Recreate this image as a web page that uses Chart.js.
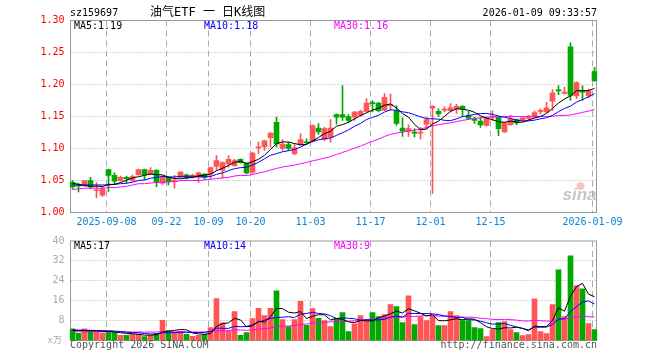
<!DOCTYPE html>
<html>
<head>
<meta charset="utf-8">
<script src="https://cdn.jsdelivr.net/npm/chart.js@4/dist/chart.umd.min.js"></script>
<style>
  body { margin: 0; background: #fff; }
  #wrap { position: relative; width: 660px; height: 360px; overflow: hidden; }
  canvas { position: absolute; left: 0; }
  #price { top: 0; }
  #volume { top: 230px; }
</style>
</head>
<body>
<div id="wrap">
  <canvas id="price" width="660" height="230"></canvas>
  <canvas id="volume" width="660" height="130"></canvas>
</div>
<script>
// trading days shown (sz159697, daily)
const dates = [
  "2025-08-29", "2025-09-01", "2025-09-02", "2025-09-03", "2025-09-04", "2025-09-05",
  "2025-09-08", "2025-09-09", "2025-09-10", "2025-09-11", "2025-09-12",
  "2025-09-15", "2025-09-16", "2025-09-17", "2025-09-18", "2025-09-19",
  "2025-09-22", "2025-09-23", "2025-09-24", "2025-09-25", "2025-09-26",
  "2025-09-29", "2025-09-30", "2025-10-09", "2025-10-10",
  "2025-10-13", "2025-10-14", "2025-10-15", "2025-10-16", "2025-10-17",
  "2025-10-20", "2025-10-21", "2025-10-22", "2025-10-23", "2025-10-24",
  "2025-10-27", "2025-10-28", "2025-10-29", "2025-10-30", "2025-10-31",
  "2025-11-03", "2025-11-04", "2025-11-05", "2025-11-06", "2025-11-07",
  "2025-11-10", "2025-11-11", "2025-11-12", "2025-11-13", "2025-11-14",
  "2025-11-17", "2025-11-18", "2025-11-19", "2025-11-20", "2025-11-21",
  "2025-11-24", "2025-11-25", "2025-11-26", "2025-11-27", "2025-11-28",
  "2025-12-01", "2025-12-02", "2025-12-03", "2025-12-04", "2025-12-05",
  "2025-12-08", "2025-12-09", "2025-12-10", "2025-12-11", "2025-12-12",
  "2025-12-15", "2025-12-16", "2025-12-17", "2025-12-18", "2025-12-19",
  "2025-12-22", "2025-12-23", "2025-12-24", "2025-12-25", "2025-12-26",
  "2025-12-29", "2025-12-30", "2025-12-31",
  "2026-01-05", "2026-01-06", "2026-01-07", "2026-01-08", "2026-01-09",
];

const open = [
  1.047, 1.043, 1.042, 1.050, 1.034, 1.027, 1.067, 1.058, 1.050, 1.055,
  1.050, 1.059, 1.067, 1.060, 1.066, 1.046, 1.055, 1.049, 1.055, 1.059,
  1.055, 1.055, 1.060, 1.060, 1.072, 1.066, 1.076, 1.073, 1.083, 1.077,
  1.063, 1.101, 1.103, 1.117, 1.141, 1.100, 1.106, 1.092, 1.106, 1.110,
  1.111, 1.132, 1.114, 1.118, 1.153, 1.153, 1.150, 1.149, 1.152, 1.158,
  1.171, 1.171, 1.160, 1.167, 1.159, 1.132, 1.127, 1.125, 1.124, 1.138,
  1.163, 1.158, 1.160, 1.159, 1.162, 1.166, 1.152, 1.146, 1.143, 1.136,
  1.148, 1.149, 1.126, 1.137, 1.145, 1.144, 1.147, 1.149, 1.158, 1.157,
  1.174, 1.191, 1.186, 1.259, 1.182, 1.189, 1.182, 1.220,
];
const high = [
  1.050, 1.046, 1.050, 1.055, 1.047, 1.040, 1.068, 1.062, 1.057, 1.057,
  1.059, 1.068, 1.068, 1.070, 1.067, 1.057, 1.056, 1.058, 1.064, 1.060,
  1.060, 1.063, 1.061, 1.071, 1.089, 1.079, 1.089, 1.083, 1.084, 1.078,
  1.094, 1.110, 1.113, 1.125, 1.149, 1.114, 1.110, 1.108, 1.123, 1.115,
  1.137, 1.139, 1.133, 1.145, 1.154, 1.198, 1.153, 1.158, 1.160, 1.178,
  1.175, 1.172, 1.186, 1.185, 1.167, 1.148, 1.137, 1.131, 1.133, 1.149,
  1.167, 1.162, 1.165, 1.170, 1.169, 1.167, 1.158, 1.149, 1.149, 1.149,
  1.159, 1.150, 1.141, 1.152, 1.146, 1.149, 1.152, 1.159, 1.162, 1.172,
  1.192, 1.198, 1.196, 1.265, 1.204, 1.198, 1.193, 1.227,
];
const low = [
  1.037, 1.032, 1.041, 1.037, 1.023, 1.025, 1.033, 1.045, 1.049, 1.046,
  1.049, 1.058, 1.051, 1.059, 1.040, 1.044, 1.043, 1.038, 1.054, 1.052,
  1.054, 1.047, 1.052, 1.053, 1.066, 1.054, 1.071, 1.072, 1.077, 1.060,
  1.061, 1.092, 1.097, 1.102, 1.102, 1.097, 1.097, 1.090, 1.105, 1.107,
  1.110, 1.122, 1.112, 1.110, 1.138, 1.144, 1.141, 1.144, 1.150, 1.157,
  1.157, 1.157, 1.159, 1.160, 1.136, 1.119, 1.119, 1.118, 1.115, 1.131,
  1.030, 1.150, 1.157, 1.157, 1.155, 1.150, 1.145, 1.139, 1.133, 1.135,
  1.144, 1.120, 1.125, 1.137, 1.137, 1.143, 1.144, 1.148, 1.154, 1.156,
  1.159, 1.184, 1.185, 1.175, 1.178, 1.175, 1.179, 1.205,
];
const close = [
  1.040, 1.041, 1.050, 1.040, 1.035, 1.037, 1.058, 1.049, 1.055, 1.053,
  1.056, 1.067, 1.059, 1.066, 1.047, 1.055, 1.048, 1.050, 1.063, 1.054,
  1.058, 1.062, 1.055, 1.070, 1.081, 1.078, 1.083, 1.081, 1.078, 1.062,
  1.093, 1.102, 1.112, 1.124, 1.107, 1.107, 1.100, 1.101, 1.114, 1.109,
  1.136, 1.126, 1.131, 1.132, 1.149, 1.149, 1.144, 1.157, 1.158, 1.171,
  1.170, 1.159, 1.180, 1.168, 1.139, 1.127, 1.131, 1.124, 1.125, 1.145,
  1.166, 1.154, 1.161, 1.1635, 1.166, 1.162, 1.147, 1.144, 1.137, 1.148,
  1.149, 1.131, 1.140, 1.146, 1.140, 1.148, 1.148, 1.156, 1.1585, 1.1635,
  1.187, 1.190, 1.188, 1.183, 1.203, 1.188, 1.190, 1.206,
];
// volume, 万手
const volume = [
  4.7, 2.9, 4.7, 3.7, 3.7, 2.9, 3.7, 3.3, 2.1, 2.1,
  2.5, 2.5, 1.6, 2.1, 2.9, 8.1, 4.0, 3.3, 3.7, 2.5,
  1.7, 2.1, 2.5, 5.2, 16.9, 7.1, 3.7, 11.6, 2.1, 3.2,
  8.8, 12.9, 10.0, 12.9, 20.0, 8.4, 5.6, 8.4, 15.7, 6.1,
  12.8, 8.9, 8.0, 5.6, 8.9, 11.2, 3.6, 6.7, 10.0, 8.0,
  11.2, 9.6, 10.4, 14.4, 13.6, 7.2, 18.0, 6.4, 9.6, 8.0,
  10.0, 6.0, 6.0, 11.6, 10.0, 8.0, 8.0, 5.2, 4.8, 1.6,
  4.4, 7.2, 7.6, 4.4, 3.2, 2.0, 2.4, 16.8, 3.6, 2.8,
  14.4, 28.4, 9.6, 34.0, 22.0, 20.8, 6.8, 4.4,
];

// averages at the left edge need days before the window
const ma5Head = [1.046, 1.044, 1.042, 1.041];
const ma10Head = [1.043, 1.043, 1.043, 1.043, 1.043, 1.043, 1.043, 1.044, 1.045];
const ma30Head = [
  1.036, 1.037, 1.038, 1.038, 1.038, 1.038, 1.039, 1.039, 1.040, 1.041,
  1.043, 1.045, 1.045, 1.046, 1.047, 1.047, 1.048, 1.048, 1.050, 1.050,
  1.050, 1.050, 1.051, 1.052, 1.053, 1.054, 1.055, 1.057, 1.058,
];
const volMa5Head = [4.1, 4.0, 4.0, 3.9];
const volMa10Head = [4.2, 4.2, 4.1, 4.1, 4.0, 4.0, 3.9, 3.8, 3.6];
const volMa30Head = [
  3.5, 3.5, 3.5, 3.5, 3.5, 3.5, 3.5, 3.5, 3.5, 3.4,
  3.4, 3.4, 3.4, 3.4, 3.4, 3.5, 3.5, 3.5, 3.5, 3.5,
  3.4, 3.4, 3.4, 3.5, 3.9, 4.0, 4.0, 4.3, 4.2,
];

const priceTicks = [1.0, 1.05, 1.1, 1.15, 1.2, 1.25, 1.3];
const volumeTicks = [0, 8, 16, 24, 32, 40];
const tickDates = ["2025-09-08", "2025-09-22", "2025-10-09", "2025-10-20", "2025-11-03",
  "2025-11-17", "2025-12-01", "2025-12-15", "2026-01-09"];
const tickText = ["2025-09-08", "09-22", "10-09", "10-20", "11-03",
  "11-17", "12-01", "12-15", "2026-01-09"];

const RED = "#ff5555";
const GREEN = "#00a800";
const mono = "'DejaVu Sans Mono', monospace";

function movingAverage(values, n, head) {
  return values.map((v, i) => {
    if (i < n - 1) return head[i];
    let s = 0;
    for (let k = i - n + 1; k <= i; k++) s += values[k];
    return s / n;
  });
}

const colors = dates.map((d, i) => (close[i] >= open[i] ? RED : GREEN));

function text(ctx, str, x, y, color, font, align) {
  ctx.fillStyle = color;
  ctx.font = font;
  ctx.textAlign = align || "left";
  ctx.textBaseline = "middle";
  ctx.fillText(str, x, y);
}

function drawGrid(chart, hValues) {
  const { ctx, chartArea: ca } = chart;
  const xs = chart.scales.x, ys = chart.scales.y;
  ctx.save();
  ctx.lineWidth = 1;
  ctx.strokeStyle = "#aaa";
  ctx.setLineDash([1, 2]);
  hValues.forEach((v) => {
    const py = Math.round(ys.getPixelForValue(v) - 0.5) + 0.5;
    ctx.beginPath();
    ctx.moveTo(ca.left + 1, py);
    ctx.lineTo(ca.right - 1, py);
    ctx.stroke();
  });
  ctx.setLineDash([6, 4]);
  tickDates.forEach((d) => {
    const px = xs.getPixelForValue(dates.indexOf(d)) - 2;
    ctx.beginPath();
    ctx.moveTo(px, ca.top);
    ctx.lineTo(px, ca.bottom);
    ctx.stroke();
  });
  ctx.setLineDash([]);
  ctx.strokeStyle = "#999";
  ctx.strokeRect(ca.left + 1, ca.top, ca.width - 2, ca.height);
  ctx.restore();
}

const pricePanel = {
  id: "pricePanel",
  beforeDatasetsDraw(chart) {
    drawGrid(chart, priceTicks.slice(1, -1));
  },
  afterDraw(chart) {
    const { ctx, chartArea: ca } = chart;
    const xs = chart.scales.x;
    ctx.save();
    text(ctx, "sz159697", 70, 13, "#000", "10px " + mono);
    text(ctx, "油气ETF 一 日K线图", 150, 12.5, "#000", "12px " + mono + ", 'Noto Sans CJK SC'");
    text(ctx, "2026-01-09 09:33:57", 597, 13, "#000", "10px " + mono, "right");
    text(ctx, "MA5:1.19", 74, 26, "#000", "10px " + mono);
    text(ctx, "MA10:1.18", 204, 26, "#0000ff", "10px " + mono);
    text(ctx, "MA30:1.16", 334, 26, "#ff00ff", "10px " + mono);
    tickDates.forEach((d, k) => {
      const px = xs.getPixelForValue(dates.indexOf(d)) - 2;
      text(ctx, tickText[k], px, 222, "#0a84d6", "10px " + mono, "center");
    });
    ctx.font = "italic bold 17px 'Liberation Sans', sans-serif";
    ctx.fillStyle = "rgba(150,150,150,0.55)";
    ctx.textAlign = "right";
    ctx.textBaseline = "alphabetic";
    ctx.fillText("sina", ca.right - 1, 200);
    ctx.fillStyle = "rgba(235,90,90,0.35)";
    ctx.beginPath();
    ctx.arc(ca.right - 17, 186, 4, 0, Math.PI * 2);
    ctx.fill();
    ctx.restore();
  },
};

const volumePanel = {
  id: "volumePanel",
  beforeDatasetsDraw(chart) {
    drawGrid(chart, volumeTicks.slice(1, -1));
  },
  afterDraw(chart) {
    const { ctx } = chart;
    ctx.save();
    text(ctx, "MA5:17", 74, 16, "#000", "10px " + mono);
    text(ctx, "MA10:14", 204, 16, "#0000ff", "10px " + mono);
    text(ctx, "MA30:9", 334, 16, "#ff00ff", "10px " + mono);
    text(ctx, "x万", 62, 111, "#aaa", "9px " + mono + ", 'Noto Sans CJK SC'", "right");
    text(ctx, "Copyright 2026 SINA.COM", 70, 115.5, "#555", "10px " + mono);
    text(ctx, "http://finance.sina.com.cn", 597, 115.5, "#555", "10px " + mono, "right");
    ctx.restore();
  },
};

const lineSet = (data, color) => ({
  type: "line",
  data,
  borderColor: color,
  borderWidth: 1,
  pointRadius: 0,
  tension: 0,
  order: 0,
});

new Chart(document.getElementById("price"), {
  type: "bar",
  data: {
    labels: dates,
    datasets: [
      lineSet(movingAverage(close, 5, ma5Head), "#000000"),
      lineSet(movingAverage(close, 10, ma10Head), "#0000ff"),
      lineSet(movingAverage(close, 30, ma30Head), "#ff00ff"),
      {
        data: dates.map((d, i) => [open[i], close[i]]),
        backgroundColor: colors,
        barThickness: 5,
        minBarLength: 1,
        grouped: false,
        order: 1,
      },
      {
        data: dates.map((d, i) => [low[i], high[i]]),
        backgroundColor: colors,
        barThickness: 1,
        grouped: false,
        order: 2,
      },
    ],
  },
  options: {
    responsive: false,
    animation: false,
    layout: { padding: { top: 20.5, right: 62.5, bottom: 17.5, left: 0 } },
    plugins: { legend: { display: false }, tooltip: { enabled: false } },
    scales: {
      x: { display: false, offset: true },
      y: {
        min: 1.0,
        max: 1.3,
        afterFit: (s) => { s.width = 69.5; },
        grid: { display: false, drawTicks: false, tickLength: 0 },
        border: { display: false },
        ticks: {
          stepSize: 0.05,
          padding: 5,
          color: "#ff0000",
          font: { family: mono, size: 10 },
          callback: (v) => Number(v).toFixed(2),
        },
      },
    },
  },
  plugins: [pricePanel],
});

new Chart(document.getElementById("volume"), {
  type: "bar",
  data: {
    labels: dates,
    datasets: [
      lineSet(movingAverage(volume, 5, volMa5Head), "#000000"),
      lineSet(movingAverage(volume, 10, volMa10Head), "#0000ff"),
      lineSet(movingAverage(volume, 30, volMa30Head), "#ff00ff"),
      {
        data: volume,
        backgroundColor: colors,
        barThickness: 5,
        grouped: false,
        order: 1,
      },
    ],
  },
  options: {
    responsive: false,
    animation: false,
    layout: { padding: { top: 10.5, right: 62.5, bottom: 19.5, left: 0 } },
    plugins: { legend: { display: false }, tooltip: { enabled: false } },
    scales: {
      x: { display: false, offset: true },
      y: {
        min: 0,
        max: 40,
        afterFit: (s) => { s.width = 69.5; },
        grid: { display: false, drawTicks: false, tickLength: 0 },
        border: { display: false },
        ticks: {
          stepSize: 8,
          padding: 5,
          color: "#aaa",
          font: { family: mono, size: 10 },
          callback: (v) => (v === 0 ? "" : String(v)),
        },
      },
    },
  },
  plugins: [volumePanel],
});
</script>
</body>
</html>
